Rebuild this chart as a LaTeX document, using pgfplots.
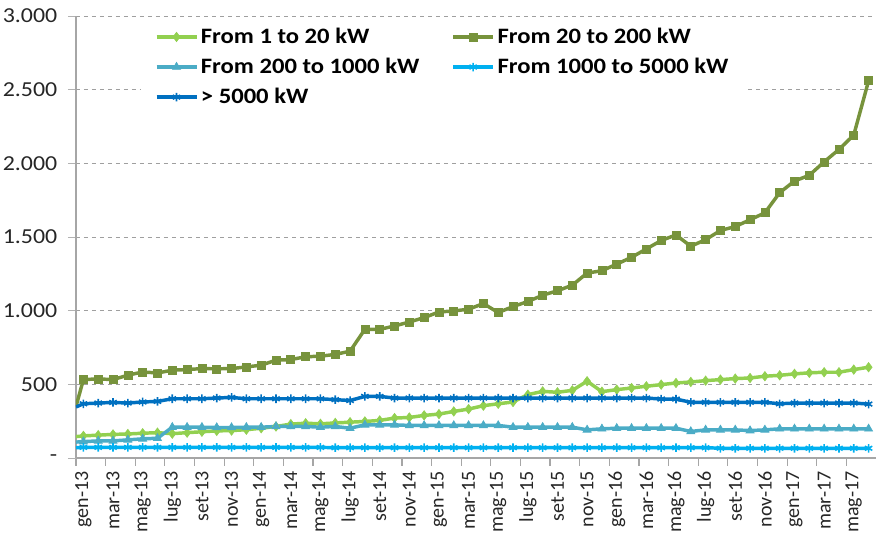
\documentclass[border=0pt]{standalone}
\usepackage{fontspec}
\setmainfont{Carlito}
\newfontfamily\wide{Carlito}[FakeStretch=1.12]
\usepackage{pgfplots}
\usepackage{pgfplotstable}
\pgfplotsset{compat=1.18}

\definecolor{cLight}{HTML}{92D050}
\definecolor{cDark}{HTML}{77933C}
\definecolor{cTeal}{HTML}{4BACC6}
\definecolor{cSky}{HTML}{00B0F0}
\definecolor{cBlue}{HTML}{0070C0}

% month index (0 = gen-13), x=-0.5 is the start at the axis
\pgfplotstableread{
x     a    b     c    d   e
-0.5  145  350   108  70  346
0     150  532   111  72  368
1     155  537   116  72  373
2     160  532   116  72  377
3     163  562   123  72  373
4     168  584   130  72  380
5     172  577   134  72  384
6     165  596   209  72  402
7     172  600   209  72  402
8     178  607   209  72  402
9     184  605   207  72  407
10    186  607   207  72  411
11    192  618   209  72  402
12    202  630   209  72  402
13    214  664   214  72  402
14    230  668   214  72  402
15    236  687   214  72  402
16    232  691   209  72  402
17    238  703   214  70  396
18    243  725   202  70  390
19    248  873   225  70  418
20    255  873   225  70  418
21    271  896   225  70  407
22    275  923   221  70  407
23    289  953   221  70  407
24    298  991   221  70  407
25    316  998   221  70  407
26    332  1010  221  70  407
27    355  1048  221  70  407
28    368  987   221  70  407
29    380  1028  209  70  407
30    430  1062  209  70  407
31    452  1105  209  70  407
32    446  1135  209  70  407
33    459  1173  209  70  407
34    521  1255  191  70  407
35    450  1271  198  70  407
36    464  1316  202  70  407
37    475  1362  202  70  407
38    487  1419  202  70  407
39    498  1476  202  70  400
40    509  1514  202  70  400
41    516  1437  180  70  378
42    525  1482  191  70  378
43    532  1544  191  66  378
44    539  1571  191  66  378
45    543  1617  186  66  378
46    555  1664  191  66  378
47    561  1801  198  66  368
48    571  1880  198  66  373
49    578  1919  198  66  373
50    582  2010  198  66  373
51    582  2094  198  66  373
52    600  2192  198  66  373
53    616  2560  198  66  366
}\datatable

\begin{document}
\begin{tikzpicture}
\begin{axis}[
  scale only axis,
  width=600pt, height=331.5pt,
  xmin=-0.5, xmax=53.5,
  ymin=0, ymax=3000,
  axis x line*=bottom,
  axis y line*=left,
  axis line style={draw=gray!70, line width=0.9pt},
  tick align=outside,
  xtick={-0.5,1.5,...,51.5},
  xticklabels={},
  x tick style={draw=gray!70, line width=0.9pt},
  major tick length=6pt,
  extra x ticks={0,2,...,52},
  extra x tick labels={gen-13,mar-13,mag-13,lug-13,set-13,nov-13,
    gen-14,mar-14,mag-14,lug-14,set-14,nov-14,
    gen-15,mar-15,mag-15,lug-15,set-15,nov-15,
    gen-16,mar-16,mag-16,lug-16,set-16,nov-16,
    gen-17,mar-17,mag-17},
  extra x tick style={major tick length=0pt},
  xticklabel style={yshift=-6.5pt, rotate=90, anchor=east, font=\fontsize{15}{18}\selectfont, text=black!85},
  ytick={0,500,...,3000},
  yticklabels={{-\hspace{7pt}},500,1.000,1.500,2.000,2.500,3.000},
  y tick style={draw=gray!60, line width=0.4pt},
  yticklabel style={xshift=-4.5pt, font=\wide\fontsize{16}{19}\selectfont, text=black!85},
  ymajorgrids,
  major grid style={draw=gray!75, dashed, line width=0.5pt},
  clip=true,
  legend columns=2,
  legend cell align=left,
  legend style={draw=none, fill=white, inner xsep=10pt, inner ysep=2pt,
    at={(0.0815,0.985)}, anchor=north west,
    font=\wide\bfseries\fontsize{16.5}{20}\selectfont,
    row sep=5.5pt,
    /tikz/column 2/.style={column sep=22pt}},
  legend image code/.code={
    \draw[mark repeat=2,mark phase=2] plot coordinates {(0pt,0pt) (15pt,0pt) (30pt,0pt)};},
  every axis plot/.append style={line width=2.6pt, mark phase=2},
]
\addplot[cLight, mark=diamond*, mark size=3.5pt, mark options={fill=cLight, line width=0.5pt}] table[x=x, y=a] {\datatable};
\addlegendentry{From 1 to 20 kW}
\addplot[cDark, mark=square*, mark size=3pt, mark options={fill=cDark, line width=0.5pt}] table[x=x, y=b] {\datatable};
\addlegendentry{From 20 to 200 kW}
\addplot[cTeal, mark=triangle*, mark size=3.5pt, mark options={fill=cTeal, line width=0.5pt}] table[x=x, y=c] {\datatable};
\addlegendentry{From 200 to 1000 kW}
\addplot[cSky, mark=asterisk, mark size=3.2pt, mark options={line width=1.2pt}] table[x=x, y=d] {\datatable};
\addlegendentry{From 1000 to 5000 kW}
\addplot[cBlue, mark=asterisk, mark size=3.2pt, mark options={line width=1.2pt}] table[x=x, y=e] {\datatable};
\addlegendentry{> 5000 kW}
\end{axis}
\pgfresetboundingbox
\useasboundingbox (-57pt,-57pt) rectangle (600pt,343.5pt);
\end{tikzpicture}
\end{document}
